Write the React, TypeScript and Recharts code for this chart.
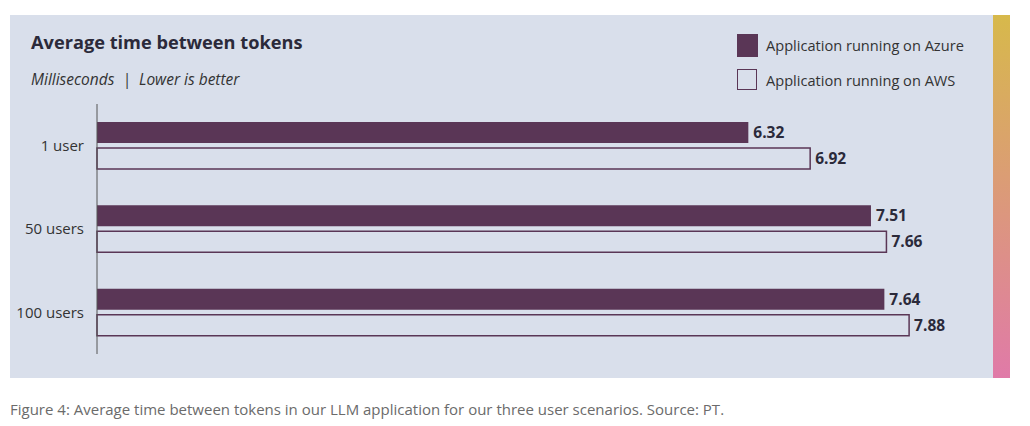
import React from "react";
import { BarChart, Bar, XAxis, YAxis, LabelList } from "recharts";

const scenarios = ["1 user", "50 users", "100 users"];
const azureMs = [6.32, 7.51, 7.64];
const awsMs = [6.92, 7.66, 7.88];

const PLUM = "#5A3656";
const PANEL = "#D9DFEB";
const INK = "#2B2A3A";
const FONT = "'Open Sans', 'Noto Sans', sans-serif";

const data = scenarios.map((name, i) => ({
  name,
  azure: azureMs[i],
  aws: awsMs[i],
}));

const valueLabel = {
  position: "right" as const,
  offset: 5,
  fill: INK,
  fontSize: 15.5,
  fontWeight: 700,
  fontFamily: FONT,
  formatter: (v: number) => v.toFixed(2),
};

export default function App() {
  return (
    <div style={{ position: "absolute", left: 0, top: 0, width: 1030, height: 426, background: "#fff", fontFamily: FONT }}>
      {/* panel */}
      <div style={{ position: "absolute", left: 10, top: 15, width: 983, height: 363, background: PANEL }} />
      {/* gradient strip on the right */}
      <div
        style={{
          position: "absolute",
          left: 993,
          top: 15,
          width: 17,
          height: 363,
          background: "linear-gradient(to bottom, #D7B94B, #E07AA8)",
        }}
      />

      <div style={{ position: "absolute", left: 31, top: 30, fontSize: 18.2, fontWeight: 700, color: INK }}>
        Average time between tokens
      </div>
      <div style={{ position: "absolute", left: 31, top: 68, fontSize: 15.5, fontStyle: "italic", color: "#333" }}>
        Milliseconds&nbsp;&nbsp;|&nbsp;&nbsp;Lower is better
      </div>

      {/* legend */}
      <div style={{ position: "absolute", left: 737, top: 34, width: 21, height: 23, background: PLUM }} />
      <div style={{ position: "absolute", left: 766, top: 35, fontSize: 14.6, color: "#333" }}>
        Application running on Azure
      </div>
      <div
        style={{
          position: "absolute",
          left: 737,
          top: 69,
          width: 18,
          height: 19,
          background: PANEL,
          border: `1.5px solid ${PLUM}`,
        }}
      />
      <div style={{ position: "absolute", left: 766, top: 70, fontSize: 14.6, color: "#333" }}>
        Application running on AWS
      </div>

      <div style={{ position: "absolute", left: 10, top: 15 }}>
        <BarChart
          width={983}
          height={363}
          data={data}
          layout="vertical"
          margin={{ top: 89, right: 20, bottom: 24, left: 0 }}
          barSize={21}
          barGap={5}
        >
          <XAxis type="number" domain={[0, 8.5]} hide />
          <YAxis
            type="category"
            dataKey="name"
            width={87}
            axisLine={{ stroke: "#555" }}
            tickLine={false}
            tickSize={6}
            tickMargin={7}
            tick={{ fill: "#333", fontSize: 15, fontFamily: FONT }}
          />
          <Bar dataKey="azure" fill={PLUM} isAnimationActive={false}>
            <LabelList dataKey="azure" {...valueLabel} />
          </Bar>
          <Bar dataKey="aws" fill={PANEL} stroke={PLUM} strokeWidth={1.5} isAnimationActive={false}>
            <LabelList dataKey="aws" {...valueLabel} />
          </Bar>
        </BarChart>
      </div>

      <div style={{ position: "absolute", left: 10, top: 399, fontSize: 15, color: "#6B6B6B" }}>
        Figure 4: Average time between tokens in our LLM application for our three user scenarios. Source: PT.
      </div>
    </div>
  );
}
